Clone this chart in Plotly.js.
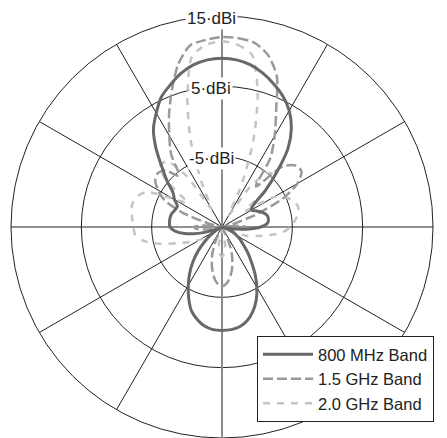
<!DOCTYPE html>
<html>
<head>
<meta charset="utf-8">
<script src="https://cdn.plot.ly/plotly-3.0.1.min.js"></script>
<style>
  html, body { margin: 0; padding: 0; background: #fff; }
  #chart { width: 447px; height: 438px; }
</style>
</head>
<body>
<div id="chart"></div>
<script>
// Azimuth of each sample, degrees clockwise from the main-beam direction
const bearingDeg = [
  0, 5, 10, 15, 20, 25, 30, 35, 40, 45, 50, 55, 60, 65, 70, 75, 80, 85, 90,
  95, 100, 105, 110, 115, 120, 125, 130, 135, 140, 145, 150, 155, 160, 165, 170, 175, 180,
  185, 190, 195, 200, 205, 210, 215, 220, 225, 230, 235, 240, 245, 250, 255, 260, 265, 270,
  275, 280, 285, 290, 295, 300, 305, 310, 315, 320, 325, 330, 335, 340, 345, 350, 355, 360
];

// Gain in dBi at each bearing
const gain800MHz = [
  9.0, 8.85, 8.4, 7.6, 6.6, 5.5, 4.1, 2.2, -0.4, -4.0, -7.0, -9.5, -10.2, -9.6, -8.9, -8.4, -8.3, -8.5, -9.5,
  -11.5, -13.5, -15, -14.2, -13.3, -12.6, -11.8, -11.0, -9.8, -8.5, -6.8, -5.1, -3.5, -2.2, -1.2, -0.6, -0.35, -0.3,
  -0.35, -0.7, -1.4, -2.3, -3.8, -5.4, -7.0, -8.6, -10.2, -11.8, -13.0, -14.0, -15, -13.5, -11.5, -9.6, -8.3, -7.6,
  -7.5, -7.5, -7.6, -7.9, -8.0, -7.2, -6.5, -4.8, -2.9, -0.4, 2.0, 3.7, 5.4, 6.5, 7.6, 8.4, 8.85, 9.0
];
const gain1500MHz = [
  12.0, 11.95, 11.6, 10.3, 7.8, 3.2, 0.0, -3.0, -7.5, -2.8, -1.4, -1.2, -2.6, -5.5, -10.0, -13.5, -15, -13.0, -11.5,
  -12.0, -15, -15, -15, -15, -15, -15, -15, -15, -15, -15, -15, -13.0, -10.9, -9.3, -8.0, -7.0, -6.6,
  -7.0, -8.0, -9.4, -11.0, -13.0, -15, -15, -15, -15, -15, -15, -15, -15, -15, -15, -13.0, -11.5, -11.0,
  -12.5, -15, -13.0, -9.0, -6.0, -4.5, -3.4, -3.1, -3.6, -5.5, -2.4, 0.0, 2.8, 5.8, 9.0, 11.2, 11.7, 12.0
];
const gain2000MHz = [
  11.4, 11.0, 9.8, 4.6, -2.0, -8.5, -13.0, -8.0, -5.0, -4.5, -7.0, -11.0, -6.5, -5.0, -4.2, -3.8, -4.0, -4.6, -5.3,
  -6.3, -8.3, -10.0, -11.5, -13.5, -15, -15, -15, -15, -15, -15, -15, -15, -15, -15, -12.5, -11.2, -10.8,
  -11.2, -12.5, -15, -15, -15, -15, -15, -15, -15, -15, -13.0, -11.4, -10.0, -8.3, -5.8, -3.7, -2.6, -2.4,
  -2.2, -1.9, -1.85, -2.2, -3.2, -7.0, -9.0, -4.5, -2.6, -2.8, -6.0, -12.0, -8.5, -2.0, 4.0, 9.6, 11.0, 11.4
];

const seriesNames = ['800 MHz Band', '1.5 GHz Band', '2.0 GHz Band'];
const gainRange = [-15, 15];
const ringValues = [-5, 5, 15];
const ringUnit = 'dBi';

const W = 447, H = 438;
const plotSize = 422;                 // square polar area, px
const R = plotSize / 2;
const cx = 222, cyFromBottom = R;     // polar centre in px
const FONT = '"Liberation Sans", Arial, Helvetica, sans-serif';
const AXIS_GREY = '#8c8c8c';

const dom = {
  x: [(cx - R) / W, (cx + R) / W],
  y: [0, plotSize / H]
};

function pattern(r, name, color, width, dash, rank) {
  return {
    type: 'scatterpolar',
    subplot: 'polar3',
    mode: 'lines',
    theta: bearingDeg,
    r: r,
    name: name,
    legendrank: rank,
    line: { color: color, width: width, dash: dash, shape: 'spline', smoothing: 0.7 },
    hoverinfo: 'skip'
  };
}

// invisible anchor so a decoration-only subplot is still laid out
function anchor(subplot) {
  return {
    type: 'scatterpolar', subplot: subplot, mode: 'markers',
    r: [gainRange[0]], theta: [bearingDeg[0]],
    marker: { size: 1, opacity: 0 },
    showlegend: false, hoverinfo: 'skip'
  };
}

const traces = [
  anchor('polar'),
  anchor('polar2'),
  pattern(gain2000MHz, seriesNames[2], '#c4c4c4', 2.5, '7px,7px', 3),
  pattern(gain1500MHz, seriesNames[1], '#999999', 2.5, '10px,4px', 2),
  pattern(gain800MHz, seriesNames[0], '#686868', 3, 'solid', 1)
];

// ring labels sit on the 0° spoke, boxed in white so the ring breaks around them
const ringLabels = ringValues.map(v => {
  const rpx = (v - gainRange[0]) / (gainRange[1] - gainRange[0]) * R;
  return {
    xref: 'paper', yref: 'paper',
    x: (cx - 11) / W,
    y: (cyFromBottom + rpx - 2) / H,
    xanchor: 'center', yanchor: 'middle',
    text: v + '\u00B7' + ringUnit,
    showarrow: false,
    bgcolor: '#ffffff',
    borderpad: 1,
    font: { family: FONT, size: 17, color: '#222' }
  };
});

const hiddenAngular = {
  rotation: 90, direction: 'clockwise',
  showgrid: false, showline: false, showticklabels: false, ticks: ''
};

// a bare radial axis line pointing in one direction
function spoke(angle) {
  return {
    domain: dom,
    bgcolor: 'rgba(0,0,0,0)',
    angularaxis: hiddenAngular,
    radialaxis: {
      range: gainRange,
      showgrid: false,
      showline: true, linecolor: AXIS_GREY, linewidth: 2,
      angle: angle, layer: 'above traces',
      showticklabels: false, ticks: ''
    }
  };
}

const layout = {
  width: W, height: H,
  margin: { l: 0, r: 0, t: 0, b: 0 },
  paper_bgcolor: '#ffffff',
  showlegend: true,
  polar: {
    domain: dom,
    bgcolor: '#ffffff',
    angularaxis: {
      rotation: 90, direction: 'clockwise',
      dtick: 30,
      showgrid: true, gridcolor: '#222', gridwidth: 1,
      showline: true, linecolor: '#222', linewidth: 1,
      showticklabels: false, ticks: ''
    },
    radialaxis: {
      range: gainRange,
      tickvals: ringValues,
      showgrid: true, gridcolor: '#222', gridwidth: 1,
      showline: true, linecolor: AXIS_GREY, linewidth: 2,
      angle: 90, layer: 'above traces',
      showticklabels: false, ticks: ''
    }
  },
  polar2: spoke(270),
  polar3: {
    domain: dom,
    bgcolor: 'rgba(0,0,0,0)',
    angularaxis: hiddenAngular,
    radialaxis: {
      range: gainRange, visible: true,
      showgrid: false, showline: false,
      showticklabels: false, ticks: ''
    }
  },
  legend: {
    x: 257 / W, y: (H - 336) / H,
    xanchor: 'left', yanchor: 'top',
    bgcolor: '#ffffff',
    bordercolor: '#222', borderwidth: 1,
    itemwidth: 50,
    tracegroupgap: 1,
    font: { family: FONT, size: 16.5, color: '#222' }
  },
  annotations: ringLabels
};

Plotly.newPlot('chart', traces, layout, { staticPlot: true, displayModeBar: false });
</script>
</body>
</html>
